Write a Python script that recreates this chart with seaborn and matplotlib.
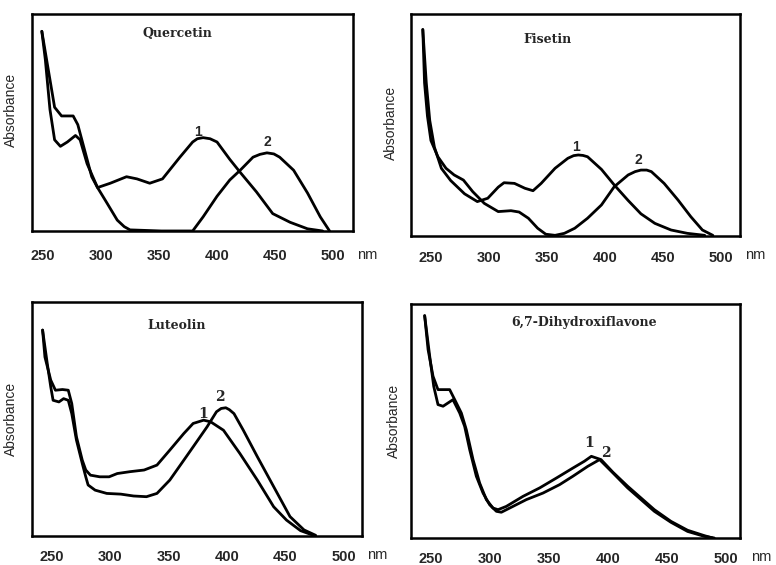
import matplotlib
matplotlib.use("Agg")
import matplotlib.pyplot as plt
import pandas as pd
import seaborn as sns

# Quercetin
quer_nm_1 = [249, 260, 266, 276, 280, 286, 292, 297, 308, 322, 331, 342, 353, 368, 379, 383, 388, 394, 400, 411, 420, 434, 448, 463, 478, 491]
quer_abs_1 = [0.92, 0.57, 0.53, 0.53, 0.49, 0.37, 0.25, 0.20, 0.22, 0.25, 0.24, 0.22, 0.24, 0.34, 0.41, 0.425, 0.43, 0.425, 0.41, 0.33, 0.27, 0.18, 0.08, 0.04, 0.01, 0.0]
quer_nm_2 = [249, 252, 256, 260, 265, 271, 278, 282, 288, 297, 305, 314, 320, 325, 352, 379, 388, 400, 411, 420, 431, 437, 443, 449, 454, 466, 478, 489, 497]
quer_abs_2 = [0.92, 0.79, 0.56, 0.42, 0.39, 0.41, 0.44, 0.42, 0.31, 0.20, 0.13, 0.05, 0.02, 0.005, 0.0, 0.0, 0.065, 0.16, 0.235, 0.28, 0.34, 0.353, 0.36, 0.355, 0.34, 0.28, 0.175, 0.065, 0.0]

# Fisetin
fis_nm_1 = [243, 246, 249, 253, 259, 267, 279, 290, 299, 308, 313, 322, 331, 338, 345, 357, 368, 373, 377, 381, 385, 397, 408, 420, 431, 443, 457, 471, 486]
fis_abs_1 = [0.93, 0.69, 0.52, 0.40, 0.305, 0.25, 0.19, 0.155, 0.17, 0.22, 0.24, 0.237, 0.215, 0.204, 0.237, 0.305, 0.35, 0.362, 0.365, 0.363, 0.357, 0.30, 0.23, 0.16, 0.10, 0.057, 0.027, 0.012, 0.003]
fis_nm_2 = [243, 244.5, 247, 250, 256, 263, 270, 278, 286, 296, 308, 319, 326, 334, 342, 349, 357, 365, 374, 385, 397, 408, 420, 426, 431, 436, 440, 451, 463, 474, 484, 493]
fis_abs_2 = [0.93, 0.69, 0.54, 0.43, 0.357, 0.305, 0.275, 0.252, 0.20, 0.147, 0.11, 0.114, 0.108, 0.08, 0.035, 0.008, 0.003, 0.012, 0.035, 0.08, 0.14, 0.222, 0.275, 0.29, 0.297, 0.297, 0.29, 0.237, 0.162, 0.087, 0.027, 0.003]

# Luteolin
lut_nm_1 = [242, 244, 249, 253, 259, 264, 267, 271, 276, 279, 283, 291, 299, 306, 317, 329, 340, 351, 363, 371, 380, 386, 397, 411, 426, 440, 451, 463, 474]
lut_abs_1 = [0.88, 0.765, 0.666, 0.623, 0.626, 0.623, 0.566, 0.424, 0.324, 0.282, 0.26, 0.253, 0.253, 0.267, 0.275, 0.282, 0.303, 0.367, 0.438, 0.481, 0.495, 0.488, 0.452, 0.353, 0.239, 0.125, 0.068, 0.023, 0.003]
lut_nm_2 = [242, 246, 249, 251, 256, 260, 264, 267, 271, 276, 279, 281, 287, 297, 309, 320, 331, 340, 351, 363, 371, 383, 391, 395, 399, 402, 406, 414, 426, 440, 454, 466, 476]
lut_abs_2 = [0.88, 0.737, 0.637, 0.58, 0.573, 0.587, 0.58, 0.523, 0.41, 0.31, 0.253, 0.218, 0.196, 0.182, 0.179, 0.171, 0.168, 0.182, 0.239, 0.324, 0.381, 0.467, 0.531, 0.545, 0.548, 0.54, 0.523, 0.452, 0.339, 0.211, 0.083, 0.026, 0.003]

# 6,7-Dihydroxiflavone
dhf_nm_1 = [244.6, 247.5, 251.7, 255.9, 261.6, 265.8, 270.1, 275.7, 279.9, 285.6, 291.2, 296.9, 302.5, 306.8, 313.8, 328, 342.1, 356.2, 370.3, 380, 385.9, 394.1, 404.2, 416.7, 428, 439.3, 453.4, 467.5, 481.7, 488.7]
dhf_abs_1 = [0.95, 0.805, 0.691, 0.634, 0.634, 0.634, 0.591, 0.534, 0.463, 0.335, 0.235, 0.164, 0.128, 0.121, 0.135, 0.178, 0.214, 0.256, 0.299, 0.328, 0.349, 0.335, 0.281, 0.221, 0.171, 0.121, 0.071, 0.033, 0.01, 0.0]
dhf_nm_2 = [244.6, 248.9, 252.3, 255.9, 260.2, 264.4, 268.6, 274.3, 278.5, 282.8, 288.4, 294.1, 299.7, 305.4, 309.6, 316.7, 330.8, 344.9, 359, 370.3, 382.8, 392.9, 404.2, 416.7, 428, 439.3, 453.4, 467.5, 481.7, 490.1]
dhf_abs_2 = [0.95, 0.776, 0.648, 0.57, 0.563, 0.577, 0.591, 0.534, 0.477, 0.377, 0.264, 0.192, 0.142, 0.114, 0.11, 0.128, 0.164, 0.192, 0.228, 0.264, 0.306, 0.335, 0.278, 0.214, 0.164, 0.114, 0.067, 0.028, 0.007, 0.0]

titles = ["Quercetin", "Fisetin", "Luteolin", "6,7-Dihydroxiflavone"]
tick_values = [250, 300, 350, 400, 450, 500]

sns.set_style("white")
plt.rcParams["font.family"] = ["Liberation Sans", "DejaVu Sans"]

fig = plt.figure(figsize=(7.76, 5.65), dpi=100)

# axes rect [left, bottom, width, height], x range and text placement per panel
panels = [
    dict(rect=[0.0412, 0.5912, 0.4137, 0.3841], xlim=(240.5, 517.2),
         nm1=quer_nm_1, ab1=quer_abs_1, nm2=quer_nm_2, ab2=quer_abs_2,
         title_xy=(0.452, 0.912), lab1=(383.6, 0.456), lab2=(443, 0.41),
         pad=13, nm_xy=(1.044, -0.11), ylab_xy=(-0.045, 0.56), numfont="sans"),
    dict(rect=[0.5296, 0.5823, 0.424, 0.3929], xlim=(232.8, 516.4),
         nm1=fis_nm_1, ab1=fis_abs_1, nm2=fis_nm_2, ab2=fis_abs_2,
         title_xy=(0.416, 0.883), lab1=(375.3, 0.40), lab2=(428.4, 0.342),
         pad=11, nm_xy=(1.046, -0.085), ylab_xy=(-0.04, 0.51), numfont="sans"),
    dict(rect=[0.0412, 0.0513, 0.4253, 0.4142], xlim=(232.9, 515.7),
         nm1=lut_nm_1, ab1=lut_abs_1, nm2=lut_nm_2, ab2=lut_abs_2,
         title_xy=(0.439, 0.90), lab1=(379.4, 0.523), lab2=(394.3, 0.595),
         pad=10, nm_xy=(1.045, -0.081), ylab_xy=(-0.042, 0.50), numfont="serif"),
    dict(rect=[0.5296, 0.0478, 0.424, 0.4142], xlim=(233.0, 511.9),
         nm1=dhf_nm_1, ab1=dhf_abs_1, nm2=dhf_nm_2, ab2=dhf_abs_2,
         title_xy=(0.525, 0.919), lab1=(384.2, 0.406), lab2=(398.3, 0.363),
         pad=10, nm_xy=(1.064, -0.081), ylab_xy=(-0.03, 0.50), numfont="serif"),
]

for title, p in zip(titles, panels):
    ax = fig.add_axes(p["rect"])
    df = pd.concat([
        pd.DataFrame({"nm": p["nm1"], "abs": p["ab1"], "curve": "1"}),
        pd.DataFrame({"nm": p["nm2"], "abs": p["ab2"], "curve": "2"}),
    ])
    sns.lineplot(data=df, x="nm", y="abs", units="curve", estimator=None,
                 sort=False, color="black", linewidth=2.0, ax=ax,
                 solid_joinstyle="round", solid_capstyle="round")

    ax.set_xlim(*p["xlim"])
    ax.set_ylim(0, 1)
    ax.set_xticks(tick_values)
    ax.set_xticklabels([str(t) for t in tick_values], fontsize=10.5, fontweight="bold")
    ax.set_yticks([])
    ax.tick_params(axis="x", length=0, pad=p["pad"])
    ax.set_xlabel("")
    ax.set_ylabel("Absorbance", fontsize=10)
    ax.yaxis.set_label_coords(*p["ylab_xy"])
    for s in ax.spines.values():
        s.set_visible(True)
        s.set_color("black")
        s.set_linewidth(1.8)

    ax.text(*p["title_xy"], title, transform=ax.transAxes, ha="center", va="center",
            family=["DejaVu Serif"], fontweight="bold", fontsize=9)
    ax.text(*p["nm_xy"], "nm", transform=ax.transAxes, ha="center", va="center",
            fontsize=10.5)

    # peak numbers: sans in the top row, serif in the bottom row
    if p["numfont"] == "sans":
        fam = ["Liberation Sans"]
    else:
        fam = ["DejaVu Serif"]
    ax.text(*p["lab1"], "1", ha="center", va="center", family=fam,
            fontweight="bold", fontsize=10)
    ax.text(*p["lab2"], "2", ha="center", va="center", family=fam,
            fontweight="bold", fontsize=10)

fig.savefig("out.png", dpi=100)
